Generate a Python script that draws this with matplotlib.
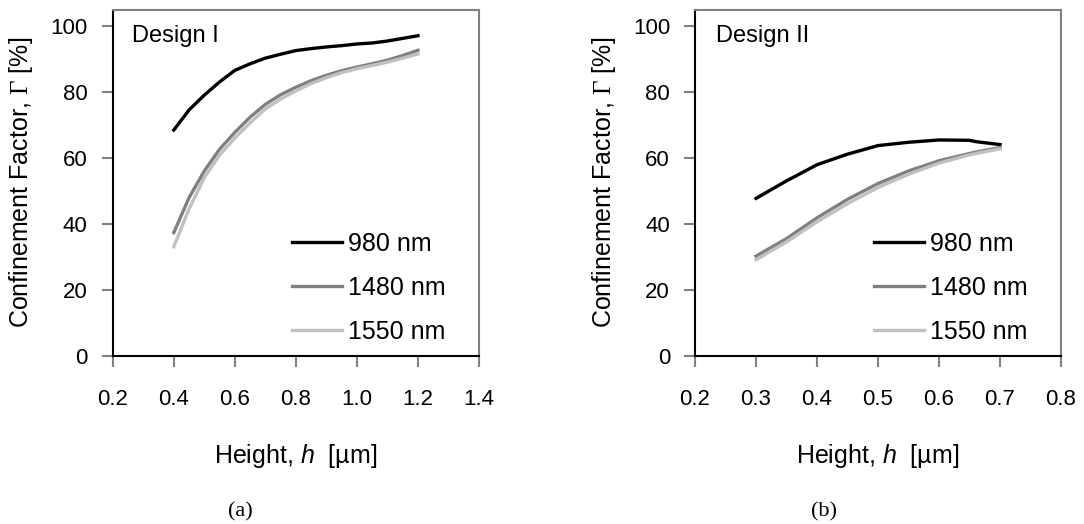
# Confinement factor versus waveguide height for two designs
import matplotlib
matplotlib.use('Agg')
import matplotlib.pyplot as plt

plt.rcParams['font.family'] = ['Liberation Sans', 'DejaVu Sans']
plt.rcParams['mathtext.fontset'] = 'custom'
plt.rcParams['mathtext.rm'] = 'Liberation Serif'
plt.rcParams['mathtext.it'] = 'Liberation Sans:italic'

# Design I data
h1 = [0.40, 0.45, 0.50, 0.55, 0.60, 0.65, 0.70, 0.75, 0.80, 0.85,
      0.90, 0.95, 1.00, 1.05, 1.10, 1.15, 1.20]
d1_980 = [68.4, 74.5, 79.0, 83.0, 86.5, 88.5, 90.2, 91.4, 92.5, 93.1,
          93.6, 94.0, 94.5, 94.8, 95.4, 96.2, 97.0]
d1_1480 = [37.3, 47.9, 56.0, 62.6, 67.7, 72.3, 76.2, 79.1, 81.4, 83.4,
           85.0, 86.4, 87.5, 88.5, 89.6, 91.0, 92.6]
d1_1550 = [33.0, 44.5, 54.0, 60.8, 66.0, 70.6, 74.8, 77.8, 80.3, 82.5,
           84.3, 85.8, 87.0, 88.0, 89.0, 90.2, 91.5]

# Design II data
h2 = [0.30, 0.35, 0.40, 0.45, 0.50, 0.55, 0.60, 0.65, 0.66, 0.70]
d2_980 = [47.7, 53.0, 57.9, 61.1, 63.7, 64.7, 65.4, 65.3, 64.9, 64.0]
d2_1480 = [30.2, 35.5, 41.8, 47.4, 52.2, 56.0, 59.1, 61.3, 61.7, 63.1]
d2_1550 = [29.1, 34.5, 40.6, 46.1, 51.0, 55.0, 58.4, 60.9, 61.3, 62.7]

labels = ['980 nm', '1480 nm', '1550 nm']
colors = ['black', '#808080', '#c0c0c0']

fig = plt.figure(figsize=(10.84, 5.24), dpi=100)
ax1 = fig.add_axes([0.104, 0.3212, 0.3379, 0.6597])
ax2 = fig.add_axes([0.6412, 0.3212, 0.3376, 0.6597])

panels = [
    (ax1, h1, [d1_980, d1_1480, d1_1550], 'Design I', (0.2, 1.4),
     [0.2, 0.4, 0.6, 0.8, 1.0, 1.2, 1.4], 0.052),
    (ax2, h2, [d2_980, d2_1480, d2_1550], 'Design II', (0.2, 0.8),
     [0.2, 0.3, 0.4, 0.5, 0.6, 0.7, 0.8], 0.056),
]

for ax, h, series, title, xlim, xticks, title_x in panels:
    for y, lab, c in zip(series, labels, colors):
        ax.plot(h, y, color=c, lw=2.4, label=lab)
    ax.set_xlim(*xlim)
    ax.set_ylim(0, 104.8)
    ax.set_xticks(xticks)
    ax.set_xticklabels(['%.1f' % t for t in xticks])
    ax.set_yticks([0, 20, 40, 60, 80, 100])
    ax.tick_params(axis='x', direction='out', length=8, width=1.5, pad=16,
                   labelsize=16, color='#808080')
    ax.tick_params(axis='y', direction='out', length=8, width=1.5, pad=10,
                   labelsize=16, color='#808080')
    for s in ['left', 'bottom']:
        ax.spines[s].set_color('black')
        ax.spines[s].set_linewidth(1.5)
    for s in ['top', 'right']:
        ax.spines[s].set_color('#808080')
        ax.spines[s].set_linewidth(1.5)
    ax.set_xlabel(r'Height, $\mathit{h}$  [µm]', fontsize=18, labelpad=23)
    ax.set_ylabel(r'Confinement Factor, $\Gamma$ [%]', fontsize=18, labelpad=11)
    ax.text(title_x, 0.925, title, transform=ax.transAxes, fontsize=17,
            va='center', ha='left')
    ax.legend(loc='lower left', bbox_to_anchor=(0.489, 0.035), frameon=False,
              fontsize=18, handlelength=2.0, handletextpad=0.25,
              labelspacing=0.8, borderpad=0, borderaxespad=0)

fig.text(240.7 / 1084, 1 - 512 / 524, '(a)', family='Liberation Serif',
         fontsize=16, ha='center', va='center')
fig.text(824 / 1084, 1 - 512 / 524, '(b)', family='Liberation Serif',
         fontsize=16, ha='center', va='center')

fig.savefig('out.png', dpi=100)
